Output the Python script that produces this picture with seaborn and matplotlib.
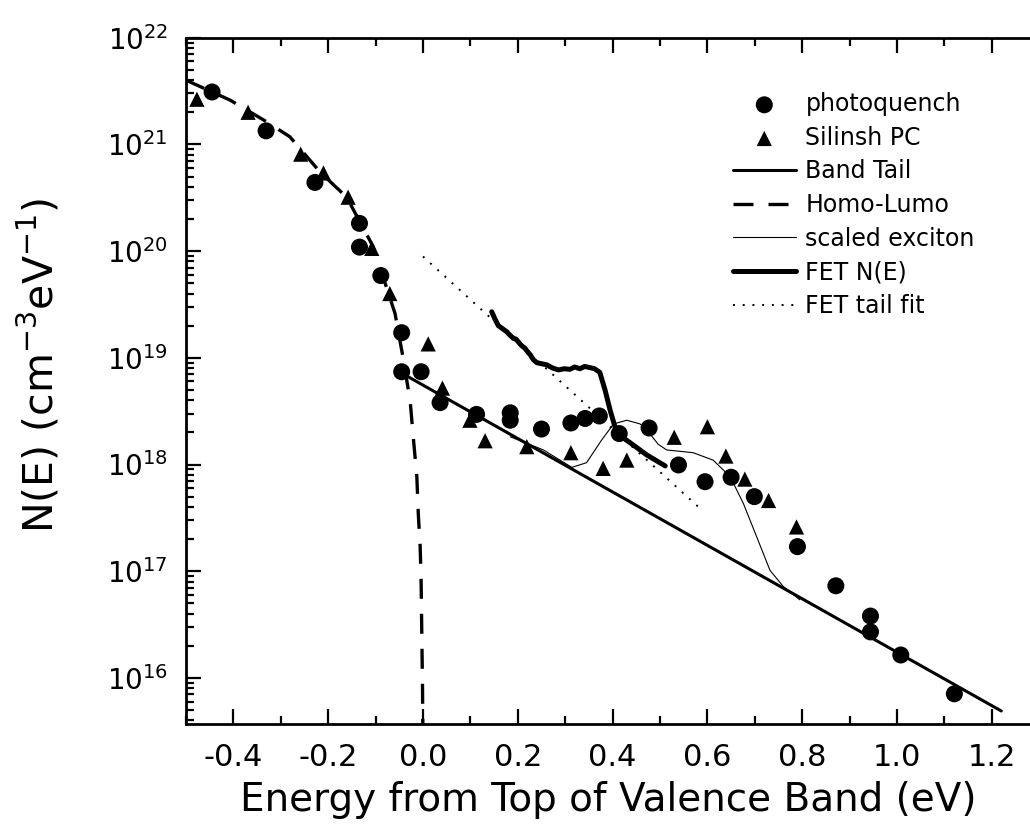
import numpy as np
import pandas as pd
import matplotlib
matplotlib.use("Agg")
import matplotlib.pyplot as plt
from matplotlib.ticker import LogLocator, MultipleLocator, NullFormatter, FixedLocator
import seaborn as sns

# ---------------- data ----------------
photo_x = [-0.445, -0.331, -0.228, -0.134, -0.134, -0.089, -0.045, -0.045, -0.004,
           0.036, 0.113, 0.184, 0.184, 0.250, 0.312, 0.342, 0.372, 0.414, 0.477,
           0.539, 0.595, 0.650, 0.699, 0.790, 0.871, 0.944, 0.944, 1.008, 1.121]
photo_y = [3.1e21, 1.34e21, 4.4e20, 1.82e20, 1.09e20, 5.9e19, 1.72e19, 7.4e18, 7.4e18,
           3.8e18, 2.95e18, 3.05e18, 2.6e18, 2.15e18, 2.45e18, 2.7e18, 2.85e18, 1.95e18, 2.2e18,
           9.9e17, 6.9e17, 7.6e17, 5.0e17, 1.7e17, 7.3e16, 3.8e16, 2.7e16, 1.64e16, 7.1e15]

silinsh_x = [-0.477, -0.369, -0.258, -0.210, -0.158, -0.108, -0.070, 0.011, 0.041,
             0.099, 0.131, 0.219, 0.312, 0.380, 0.430, 0.530, 0.600, 0.639, 0.679,
             0.729, 0.788]
silinsh_y = [2.65e21, 2.0e21, 8.1e20, 5.4e20, 3.2e20, 1.06e20, 4.0e19, 1.35e19, 5.2e18,
             2.6e18, 1.67e18, 1.47e18, 1.29e18, 9.2e17, 1.1e18, 1.8e18, 2.26e18, 1.2e18, 7.3e17,
             4.6e17, 2.6e17]

band_tail_x = [-0.05, 1.22]
band_tail_y = [7.4e18, 4.9e15]

homo_x = [-0.50, -0.407, -0.330, -0.281, -0.217, -0.161, -0.105, -0.059, -0.042,
          -0.027, -0.020, -0.013, -0.010, -0.006, -0.004, -0.003, -0.001, 0.0005]
homo_y = [4.0e21, 2.6e21, 1.63e21, 1.18e21, 5.5e20, 3.2e20, 1.1e20, 2.6e19, 1.0e19,
          3.9e18, 1.7e18, 7.7e17, 3.5e17, 1.7e17, 8.3e16, 3.7e16, 8e15, 1e15]

exciton_x = [0.184, 0.219, 0.254, 0.314, 0.345, 0.377, 0.402, 0.430, 0.458, 0.475,
             0.496, 0.514, 0.570, 0.612, 0.648, 0.676, 0.704, 0.732, 0.760, 0.795]
exciton_y = [1.82e18, 1.58e18, 1.37e18, 9.4e17, 1.04e18, 1.7e18, 2.4e18, 2.6e18, 2.4e18, 2.04e18,
             1.55e18, 1.37e18, 1.29e18, 1.1e18, 7.7e17, 4.3e17, 2.1e17, 1.02e17, 7.2e16, 5.4e16]

fet_x = [0.145, 0.152, 0.159, 0.166, 0.177, 0.184, 0.191, 0.196, 0.201, 0.208, 0.215,
         0.220, 0.226, 0.233, 0.240, 0.250, 0.261, 0.274, 0.286, 0.298, 0.310, 0.320,
         0.331, 0.341, 0.352, 0.362, 0.373, 0.384, 0.395, 0.405, 0.419, 0.444, 0.472, 0.511]
fet_y = [2.7e19, 2.3e19, 2.0e19, 1.9e19, 1.75e19, 1.62e19, 1.52e19, 1.5e19, 1.41e19, 1.3e19, 1.23e19,
         1.15e19, 1.07e19, 9.6e18, 9.0e18, 8.8e18, 8.6e18, 8.0e18, 7.7e18, 7.9e18, 7.8e18, 8.2e18,
         7.9e18, 8.3e18, 8.1e18, 7.9e18, 7.3e18, 5.0e18, 3.2e18, 2.26e18, 1.82e18, 1.52e18, 1.23e18, 9.7e17]

fit_x = [0.0, 0.584]
fit_y = [8.9e19, 3.9e17]

x_ticks = [-0.4, -0.2, 0.0, 0.2, 0.4, 0.6, 0.8, 1.0, 1.2]
x_tick_labels = ["-0.4", "-0.2", "0.0", "0.2", "0.4", "0.6", "0.8", "1.0", "1.2"]
y_ticks = [1e16, 1e17, 1e18, 1e19, 1e20, 1e21, 1e22]

legend_order = ["photoquench", "Silinsh PC", "Band Tail", "Homo-Lumo", "scaled exciton",
                "FET N(E)", "FET tail fit"]

# ---------------- style ----------------
sns.set_style("ticks")
plt.rcParams["font.family"] = ["DejaVu Sans"]
plt.rcParams["mathtext.fontset"] = "dejavusans"
plt.rcParams["mathtext.default"] = "regular"
for key in ["text.color", "axes.labelcolor", "xtick.color", "ytick.color",
            "axes.edgecolor", "legend.labelcolor"]:
    plt.rcParams[key] = "black"

fig = plt.figure(figsize=(10.30, 8.34), dpi=100)
ax = fig.add_axes([186 / 1030, 110 / 834, 844 / 1030, (724 - 37.7) / 834])
ax.set_yscale("log")

df_photo = pd.DataFrame({"x": photo_x, "y": photo_y})
df_sil = pd.DataFrame({"x": silinsh_x, "y": silinsh_y})

sns.scatterplot(data=df_photo, x="x", y="y", ax=ax, marker="o", s=150, color="black",
                edgecolor="none", label="photoquench", zorder=5)
sns.scatterplot(data=df_sil, x="x", y="y", ax=ax, marker="^", s=120, color="black",
                edgecolor="none", label="Silinsh PC", zorder=5)

sns.lineplot(x=band_tail_x, y=band_tail_y, ax=ax, sort=False, estimator=None, color="black",
             linewidth=2.2, label="Band Tail", zorder=3)
sns.lineplot(x=homo_x, y=homo_y, ax=ax, sort=False, estimator=None, color="black",
             linewidth=2.4, linestyle=(0, (6, 4.5)), label="Homo-Lumo", zorder=3)
sns.lineplot(x=exciton_x, y=exciton_y, ax=ax, sort=False, estimator=None, color="black",
             linewidth=0.8, label="scaled exciton", zorder=3)
sns.lineplot(x=fet_x, y=fet_y, ax=ax, sort=False, estimator=None, color="black",
             linewidth=3.6, label="FET N(E)", zorder=4)
sns.lineplot(x=fit_x, y=fit_y, ax=ax, sort=False, estimator=None, color="black",
             linewidth=1.4, linestyle=(0, (1, 4)), label="FET tail fit", zorder=3)

ax.set_xlim(-0.5, -0.5 + 844 / 474)
ax.set_ylim(3.7e15, 1e22)

ax.set_xticks(x_ticks)
ax.set_xticklabels(x_tick_labels)
ax.xaxis.set_minor_locator(MultipleLocator(0.1))
ax.yaxis.set_major_locator(FixedLocator(y_ticks))
ax.yaxis.set_minor_locator(LogLocator(base=10, subs=np.arange(2, 10), numticks=20))
ax.yaxis.set_minor_formatter(NullFormatter())

for sp in ["left", "bottom", "top"]:
    ax.spines[sp].set_linewidth(2.0)
    ax.spines[sp].set_color("black")
ax.spines["right"].set_visible(False)

ax.tick_params(axis="both", which="major", direction="in", length=11, width=1.6,
               colors="black")
ax.tick_params(axis="both", which="minor", direction="in", length=6, width=1.6)
ax.tick_params(axis="x", which="both", top=True, bottom=True)
ax.tick_params(axis="x", which="major", labelsize=22, pad=14)
ax.tick_params(axis="y", which="both", left=True, right=False)
ax.tick_params(axis="y", which="major", labelsize=20, pad=13)

ax.set_xlabel("Energy from Top of Valence Band (eV)", fontsize=28, labelpad=6)
ax.set_ylabel("N(E) (cm$^{-3}$eV$^{-1}$)", fontsize=29.5, color="black")
ax.yaxis.set_label_coords(-0.146, 0.523)

handles, labels = ax.get_legend_handles_labels()
hmap = dict(zip(labels, handles))
leg = ax.legend([hmap[k] for k in legend_order], legend_order, loc="upper left",
                bbox_to_anchor=((733 - 186) / 844, 1 - (92 - 37.7) / 686.3),
                frameon=False, fontsize=17, handlelength=2.65, handletextpad=0.42,
                labelspacing=0.41, borderaxespad=0.0, borderpad=0.0)
for t in leg.get_texts():
    t.set_color("black")

fig.savefig("out.png", dpi=100)
